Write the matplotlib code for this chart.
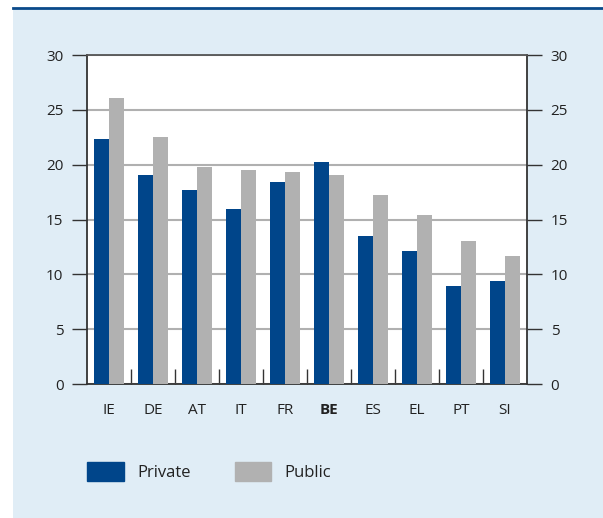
import matplotlib.pyplot as plt
from matplotlib.patches import Rectangle
from matplotlib.lines import Line2D
import numpy as np

countries = ['IE', 'DE', 'AT', 'IT', 'FR', 'BE', 'ES', 'EL', 'PT', 'SI']
private = [22.3, 19.1, 17.7, 16.0, 18.4, 20.2, 13.5, 12.1, 8.9, 9.4]
public = [26.1, 22.5, 19.8, 19.5, 19.3, 19.1, 17.2, 15.4, 13.0, 11.7]

navy = '#00458a'
grey = '#b1b1b1'
bg = '#e0edf6'
txt = '#222222'

plt.rcParams['font.family'] = ['Open Sans', 'DejaVu Sans']

W, H = 603, 518
fig = plt.figure(figsize=(W / 100, H / 100), dpi=100)
fig.patch.set_facecolor('white')

# light blue panel and dark blue rule on top
fig.patches.append(Rectangle((13 / W, 0), 1 - 13 / W, (H - 9) / H,
                             transform=fig.transFigure, facecolor=bg,
                             edgecolor='none', zorder=-5))
fig.lines.append(Line2D([13 / W, 1], [(H - 8) / H, (H - 8) / H],
                        transform=fig.transFigure, color='#0a4a8a', lw=2,
                        zorder=-4))

ax = fig.add_axes([87 / W, (H - 384) / H, 440 / W, 329 / H])
ax.set_facecolor('white')

x = np.arange(len(countries))
w = 0.34
ax.bar(x - w / 2, private, w, color=navy, zorder=3)
ax.bar(x + w / 2, public, w, color=grey, zorder=3)

ax.set_xlim(-0.5, len(countries) - 0.5)
ax.set_ylim(0, 30)
ax.set_yticks(range(0, 31, 5))
ax.yaxis.grid(True, color='#b0b0b0', lw=1.5, zorder=1)

ax.tick_params(axis='y', which='both', direction='out', length=11, width=1,
               color='#333333', labelsize=11, labelcolor=txt, pad=6,
               left=True, right=True, labelleft=True, labelright=True)

ax.set_xticks(x)
ax.set_xticklabels(countries)
ax.set_xticks(np.arange(0.5, len(countries) - 1, 1), minor=True)
ax.tick_params(axis='x', which='major', length=0, labelsize=11,
               labelcolor=txt, pad=14)
ax.tick_params(axis='x', which='minor', direction='in', length=11,
               width=1, color='#333333')
for lab in ax.get_xticklabels():
    if lab.get_text() == 'BE':
        lab.set_fontweight('bold')

for s in ['left', 'right', 'bottom']:
    ax.spines[s].set_color('#333333')
    ax.spines[s].set_linewidth(1.3)
ax.spines['top'].set_color('#555555')
ax.spines['top'].set_linewidth(1.3)

# legend
handles = [Rectangle((0, 0), 1, 1, color=navy), Rectangle((0, 0), 1, 1, color=grey)]
leg = fig.legend(handles, ['Private', 'Public'], loc='upper left',
                 bbox_to_anchor=(72 / W, (H - 447) / H), ncol=2, frameon=False,
                 fontsize=12, handlelength=2.2, handleheight=1.4,
                 handletextpad=0.8, columnspacing=2.65, labelcolor=txt)

fig.savefig('out.png', dpi=100)
